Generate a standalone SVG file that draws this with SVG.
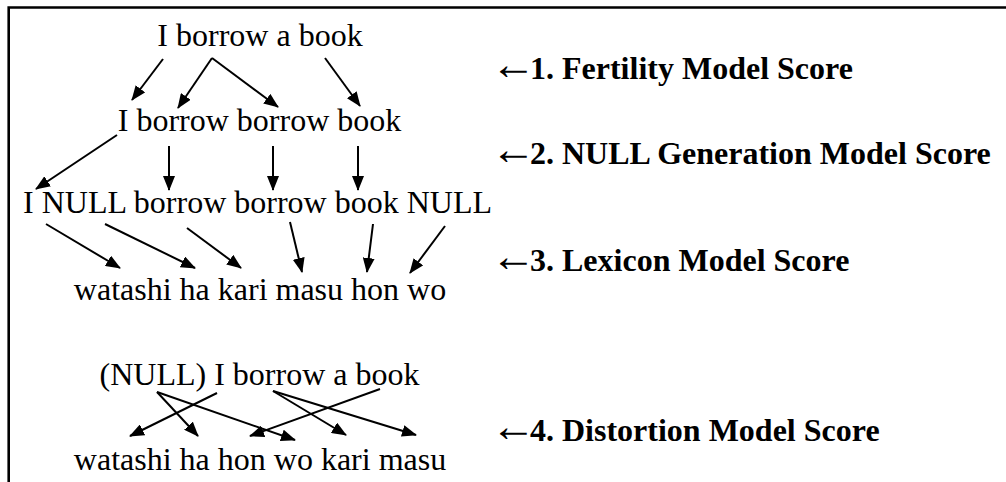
<svg xmlns="http://www.w3.org/2000/svg" width="1006" height="482" viewBox="0 0 1006 482">
  <style>
    .row { font-family: "Liberation Serif", "Times New Roman", serif; font-size: 32px; fill: #000; text-anchor: middle; }
    .score { font-family: "Liberation Serif", "Times New Roman", serif; font-size: 32px; font-weight: bold; fill: #000; }
    .score .pointer { font-size: 45px; font-weight: normal; }
    .edge { stroke: #000; stroke-width: 2; fill: none; marker-end: url(#head); }
  </style>
  <defs>
    <marker id="head" markerUnits="userSpaceOnUse" markerWidth="15" markerHeight="12" viewBox="0 0 15 12" refX="14" refY="6" orient="auto">
      <path d="M0,0 L15,6 L0,12 Z" fill="#000"/>
    </marker>
  </defs>

  <rect width="1006" height="482" fill="#fff"/>
  <!-- open frame: left and top edges -->
  <path d="M8.7,482 V7.5 H1006" fill="none" stroke="#000" stroke-width="2.6"/>

  <!-- word rows -->
  <g id="english"><text class="row" x="260" y="46">I borrow a book</text></g>
  <g id="fertility-expanded"><text class="row" x="259.5" y="131">I borrow borrow book</text></g>
  <g id="null-inserted"><text class="row" x="257.5" y="213">I NULL borrow borrow book NULL</text></g>
  <g id="japanese-lexical"><text class="row" x="260" y="300">watashi ha kari masu hon wo</text></g>
  <g id="english-null"><text class="row" x="259.5" y="385">(NULL) I borrow a book</text></g>
  <g id="japanese-ordered"><text class="row" x="260" y="470">watashi ha hon wo kari masu</text></g>

  <!-- score labels: a large light arrow, then the bold caption -->
  <g id="label-fertility"><text class="score" x="491" y="79"><tspan class="pointer">←</tspan><tspan dx="-6">1. Fertility Model Score</tspan></text></g>
  <g id="label-null"><text class="score" x="491" y="164"><tspan class="pointer">←</tspan><tspan dx="-6">2. NULL Generation Model Score</tspan></text></g>
  <g id="label-lexicon"><text class="score" x="491" y="271"><tspan class="pointer">←</tspan><tspan dx="-6">3. Lexicon Model Score</tspan></text></g>
  <g id="label-distortion"><text class="score" x="491" y="441"><tspan class="pointer">←</tspan><tspan dx="-6">4. Distortion Model Score</tspan></text></g>

  <g id="connectors">
    <!-- fertility -->
    <line class="edge" x1="163" y1="59" x2="132" y2="100"/>
    <line class="edge" x1="212" y1="58" x2="178" y2="108"/>
    <line class="edge" x1="212" y1="58" x2="278" y2="107"/>
    <line class="edge" x1="325" y1="58" x2="360" y2="106"/>
    <!-- NULL generation -->
    <line class="edge" x1="117" y1="135" x2="36" y2="189"/>
    <line class="edge" x1="169" y1="146" x2="169" y2="190"/>
    <line class="edge" x1="273" y1="146" x2="273" y2="190"/>
    <line class="edge" x1="358" y1="146" x2="358" y2="190"/>
    <!-- lexicon -->
    <line class="edge" x1="46" y1="224" x2="120" y2="268"/>
    <line class="edge" x1="105" y1="224" x2="195" y2="268"/>
    <line class="edge" x1="187" y1="228" x2="241" y2="268"/>
    <line class="edge" x1="290" y1="222" x2="302" y2="272"/>
    <line class="edge" x1="373" y1="224" x2="367" y2="272"/>
    <line class="edge" x1="445" y1="226" x2="410" y2="273"/>
    <!-- distortion -->
    <line class="edge" x1="157" y1="392" x2="198" y2="436"/>
    <line class="edge" x1="157" y1="392" x2="295" y2="440"/>
    <line class="edge" x1="217" y1="393" x2="130" y2="436"/>
    <line class="edge" x1="273" y1="391" x2="346" y2="435"/>
    <line class="edge" x1="273" y1="391" x2="416" y2="435"/>
    <line class="edge" x1="380" y1="389" x2="250" y2="436"/>
  </g>
</svg>
